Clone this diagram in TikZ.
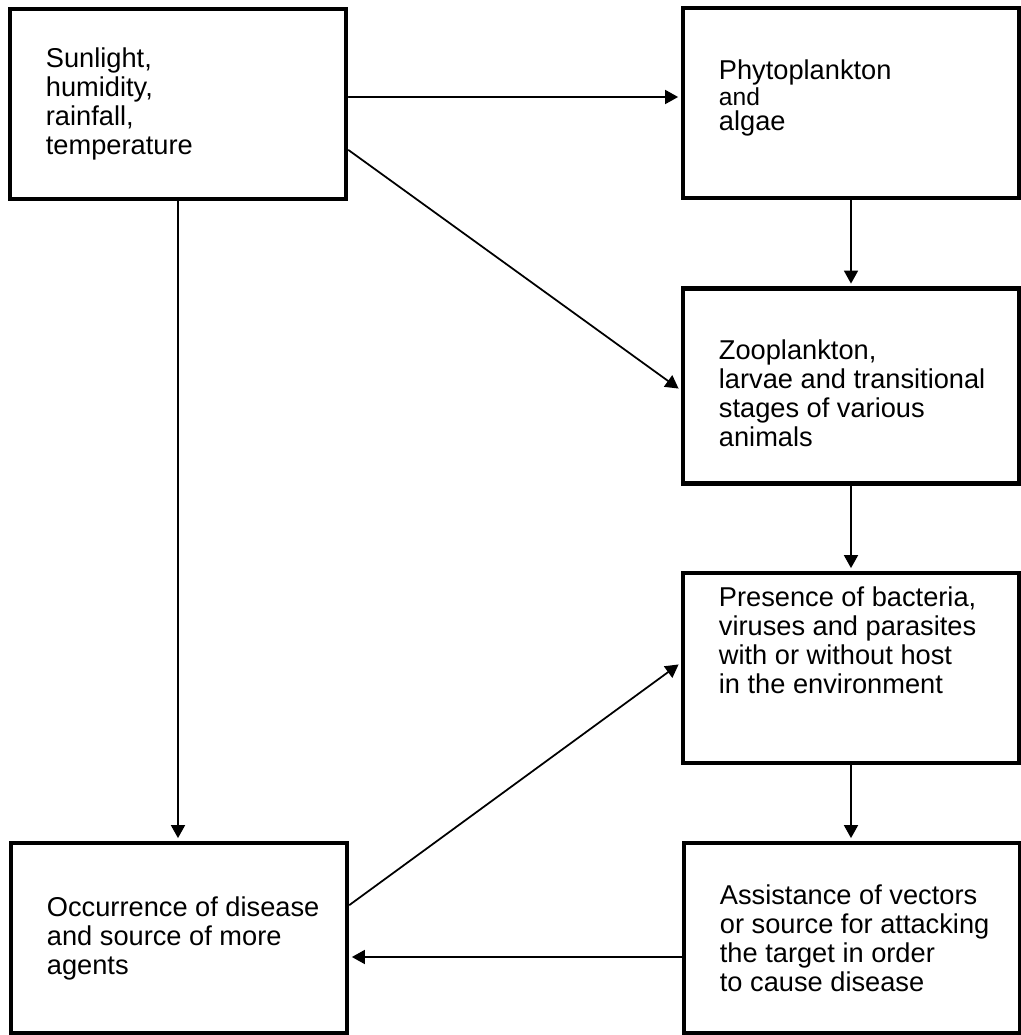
\documentclass[tikz,border=0pt]{standalone}
\usepackage{fontspec}
\setmainfont{Liberation Sans}
\usetikzlibrary{arrows.meta}

\begin{document}
\begin{tikzpicture}[line cap=round,line join=round,>={Triangle[length=0.26cm,width=0.28cm]},x=0.02cm,y=-0.02cm,
		box/.style={draw,line width=2.8pt,line join=miter,line cap=rect,minimum width=6.72cm,minimum height=3.8cm,inner sep=0pt},
		txt/.style={anchor=west,align=left,inner sep=0pt,font=\fontsize{15.5}{16.5}\selectfont},
		link/.style={->,line width=1pt,shorten >=1.4pt}]
			\useasboundingbox (0,0) rectangle (1021,1035);
			% boxes
			\node [box] (sun) at (178,104) {};
			\node [box] (phyto) at (851,103) {};
			\node [box,minimum height=3.9cm] (zoo) at (851,386) {};
			\node [box] (bact) at (851,668) {};
			\node [box] (vect) at (852,938) {};
			\node [box] (dis) at (179,938) {};
			% texts
			\node [txt] (sunT) at ([xshift=0.76cm]sun.west) {Sunlight,\\humidity,\\rainfall,\\temperature};
			\node [txt,font=\fontsize{15.5}{14.5}\selectfont] (phytoT) at ([xshift=0.76cm,yshift=0.1cm]phyto.west) {Phytoplankton\\{\fontsize{14}{14.5}\selectfont and}\\algae};
			\node [txt] (zooT) at ([xshift=0.76cm,yshift=-0.14cm]zoo.west) {Zooplankton,\\larvae and transitional\\stages of various\\animals};
			\node [txt] (bactT) at ([xshift=0.76cm,yshift=0.56cm]bact.west) {Presence of bacteria,\\viruses and parasites\\with or without host\\in the environment};
			\node [txt] (vectT) at ([xshift=0.76cm]vect.west) {Assistance of vectors\\or source for attacking\\the target in order\\to cause disease};
			\node [txt] (disT) at ([xshift=0.76cm]dis.west) {Occurrence of disease\\and source of more\\agents};
			% arrows
			\draw [link] ([yshift=0.14cm]sun.east) -- ([yshift=0.12cm]phyto.west);
			\draw [link] ([yshift=-0.92cm]sun.east) -- ([yshift=-0.08cm]zoo.west);
			\draw [link] (sun.south) -- (sun.south |- dis.north);
			\draw [link] (phyto.south) -- (zoo.north);
			\draw [link] (zoo.south) -- (bact.north);
			\draw [link] (bact.south) -- (bact.south |- vect.north);
			\draw [link] ([yshift=-0.38cm]vect.west) -- ([yshift=-0.38cm]dis.east);
			\draw [link] ([yshift=0.66cm]dis.east) -- ([yshift=0.1cm]bact.west);
		\end{tikzpicture}
\end{document}
